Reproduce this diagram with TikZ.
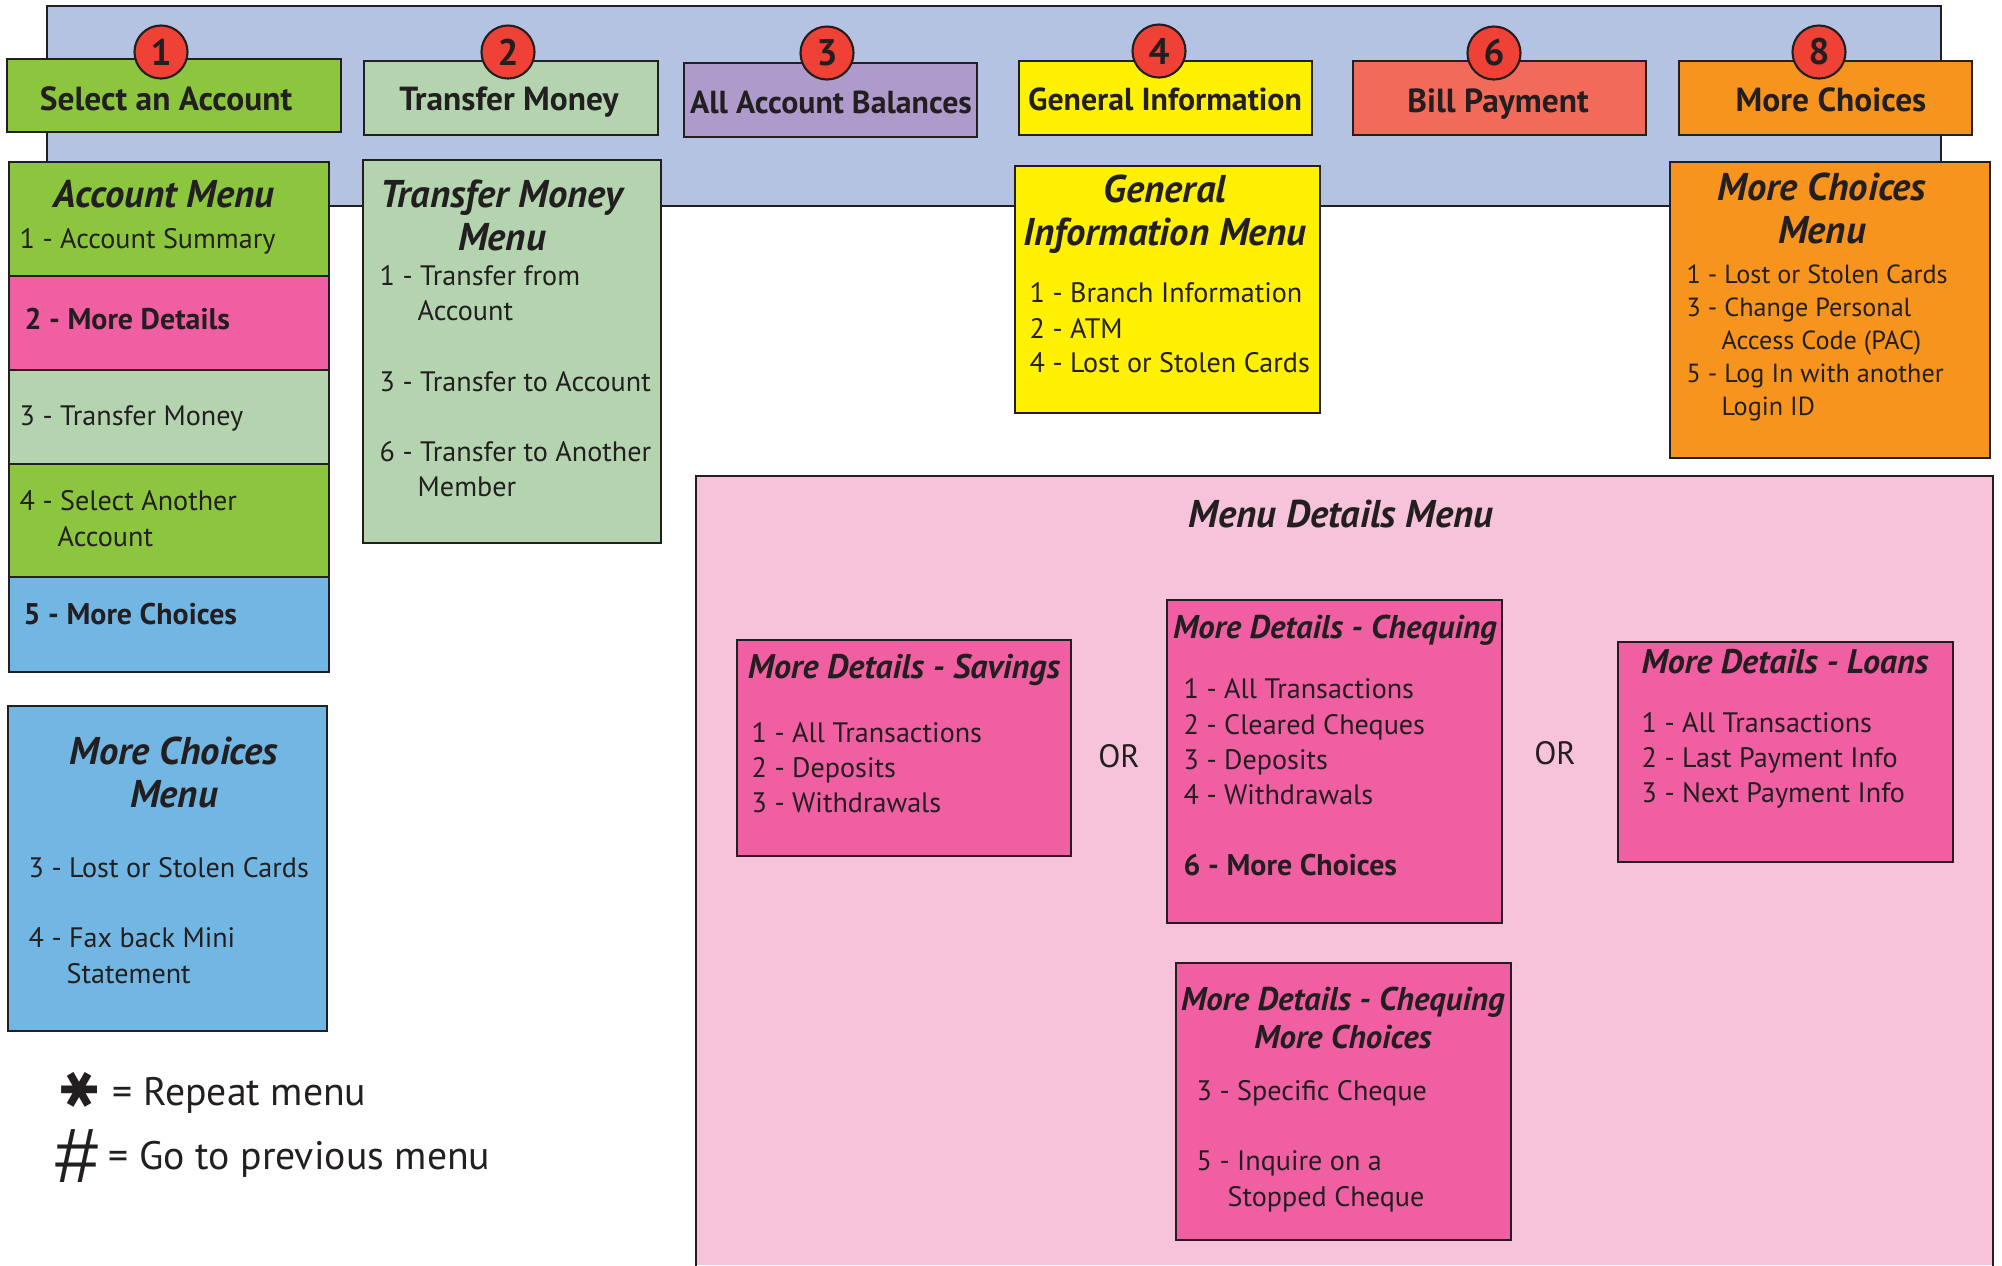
\documentclass[tikz,border=0pt]{standalone}
\usepackage{fontspec}
\setmainfont{PT Sans}
\newfontfamily\symfont{DejaVu Sans}
\newfontfamily\hashfont{Liberation Sans}
\definecolor{ink}{HTML}{231F20}
\definecolor{hdr}{HTML}{B5C3E3}
\definecolor{cgreen}{HTML}{8CC63F}
\definecolor{clgreen}{HTML}{B3D4AF}
\definecolor{cpurple}{HTML}{AE9BCB}
\definecolor{cyellow}{HTML}{FFF100}
\definecolor{csalmon}{HTML}{F26B5A}
\definecolor{corange}{HTML}{F7941D}
\definecolor{cpink}{HTML}{F05FA1}
\definecolor{lpink}{HTML}{F6C3DA}
\definecolor{csky}{HTML}{72B7E4}
\definecolor{cred}{HTML}{EF4136}
\tikzset{
  box/.style={draw=ink, line width=0.7pt},
  circ/.style={circle, draw=ink, fill=cred, line width=0.6pt, minimum size=0.53cm, inner sep=0pt,
    font=\fontsize{10.5}{12}\selectfont\bfseries, text=ink},
  btn/.style={anchor=base, inner sep=0pt, text=ink, font=\fontsize{9.5}{12}\selectfont\bfseries},
  sbtn/.style={anchor=base, inner sep=0pt, text=ink, font=\fontsize{9.05}{12}\selectfont\bfseries},
  ttl/.style={anchor=base, inner sep=0pt, text=ink, font=\fontsize{11}{13}\selectfont\bfseries\itshape},
  pttl/.style={anchor=base, inner sep=0pt, text=ink, font=\fontsize{9.7}{12}\selectfont\bfseries\itshape},
  cttl/.style={anchor=base, inner sep=0pt, text=ink, font=\fontsize{9.35}{12}\selectfont\bfseries\itshape},
  body/.style={anchor=base west, inner sep=0pt, text=ink, font=\fontsize{8}{10}\selectfont},
  sbody/.style={anchor=base west, inner sep=0pt, text=ink, font=\fontsize{7.45}{9}\selectfont},
  bodyb/.style={anchor=base west, inner sep=0pt, text=ink, font=\fontsize{8.5}{10}\selectfont\bfseries},
  ortext/.style={anchor=base, inner sep=0pt, text=ink, font=\fontsize{9.2}{11}\selectfont},
  legend/.style={anchor=base west, inner sep=0pt, text=ink, font=\fontsize{11.3}{14}\selectfont},
}
\begin{document}
\begin{tikzpicture}[x=0.01cm,y=-0.01cm]
\useasboundingbox (0,0) rectangle (2002,1265);
% header band
\path[box,fill=hdr] (47,6) rectangle (1941,206);
% top buttons
\path[box,fill=cgreen]  (7,59)    rectangle (341,132);
\path[box,fill=clgreen] (364,61)  rectangle (658,135);
\path[box,fill=cpurple] (684,63)  rectangle (977,137);
\path[box,fill=cyellow] (1019,61) rectangle (1312,135);
\path[box,fill=csalmon] (1353,61) rectangle (1646,135);
\path[box,fill=corange] (1679,61) rectangle (1972,135);
\node[btn]  (tSel)  at (166,110)  {Select an Account};
\node[btn]  (tTr)   at (509,110)  {Transfer Money};
\node[sbtn] (tAll)  at (831,113)  {All Account Balances};
\node[sbtn] (tGen)  at (1165,110) {General Information};
\node[btn]  (tBill) at (1498,112) {Bill Payment};
\node[btn]  (tMore) at (1831,111) {More Choices};
\node[circ] (c1) at (161,52)  {1};
\node[circ] (c2) at (508,52)  {2};
\node[circ] (c3) at (827,53)  {3};
\node[circ] (c4) at (1159,51) {4};
\node[circ] (c6) at (1494,53) {6};
\node[circ] (c8) at (1819,52) {8};
% Account menu stack
\path[box,fill=cgreen]  (9,162) rectangle (329,276);
\path[box,fill=cpink]   (9,276) rectangle (329,370);
\path[box,fill=clgreen] (9,370) rectangle (329,464);
\path[box,fill=cgreen]  (9,464) rectangle (329,577);
\path[box,fill=csky]    (9,577) rectangle (329,672);
\node[ttl]   (amT)  at (164,207) {Account Menu};
\node[body]  (am1)  at (19,248)  {1 - Account Summary};
\node[bodyb] (am2)  at (24,329)  {2 - More Details};
\node[body]  (am3)  at (19,425)  {3 - Transfer Money};
\node[body]  (am4)  at (19,510)  {4 - Select Another};
\node[body]  (am4b) at (57,546)  {Account};
\node[bodyb] (am5)  at (23,624)  {5 - More Choices};
% Transfer money menu
\path[box,fill=clgreen] (363,160) rectangle (661,543);
\node[ttl]  (tmT1) at (502,207) {Transfer Money};
\node[ttl]  (tmT2) at (502,250) {Menu};
\node[body] (tm1)  at (379,285) {1 - Transfer from};
\node[body] (tm1b) at (417,320) {Account};
\node[body] (tm3)  at (379,391) {3 - Transfer to Account};
\node[body] (tm6)  at (379,461) {6 - Transfer to Another};
\node[body] (tm6b) at (417,496) {Member};
% General information menu
\path[box,fill=cyellow] (1015,166) rectangle (1320,413);
\node[ttl]  (giT1) at (1165,202) {General};
\node[ttl]  (giT2) at (1165,245) {Information Menu};
\node[body] (gi1)  at (1029,302) {1 - Branch Information};
\node[body] (gi2)  at (1029,338) {2 - ATM};
\node[body] (gi4)  at (1029,372) {4 - Lost or Stolen Cards};
% More choices menu (orange)
\path[box,fill=corange] (1670,162) rectangle (1990,458);
\node[ttl]   (mcT1) at (1822,200) {More Choices};
\node[ttl]   (mcT2) at (1822,243) {Menu};
\node[sbody] (mc1)  at (1686,283) {1 - Lost or Stolen Cards};
\node[sbody] (mc3)  at (1686,316) {3 - Change Personal};
\node[sbody] (mc3b) at (1721,349) {Access Code (PAC)};
\node[sbody] (mc5)  at (1686,382) {5 - Log In with another};
\node[sbody] (mc5b) at (1721,415) {Login ID};
% More choices menu (blue)
\path[box,fill=csky] (8,706) rectangle (327,1031);
\node[ttl]  (bcT1) at (174,764) {More Choices};
\node[ttl]  (bcT2) at (174,807) {Menu};
\node[body] (bc3)  at (28,877) {3 - Lost or Stolen Cards};
\node[body] (bc4)  at (28,947) {4 - Fax back Mini};
\node[body] (bc4b) at (66,983) {Statement};
% legend
\node[inner sep=0pt, text=ink, rotate=90, font=\fontsize{14}{15}\selectfont\symfont] (star) at (80,1090) {✱};
\node[legend] (lg1) at (112,1105) {= Repeat menu};
\node[anchor=base, inner sep=0pt, text=ink, font=\fontsize{22}{24}\selectfont\hashfont] (hash) at (77,1182) {\#};
\node[legend] (lg2) at (108,1169) {= Go to previous menu};
% Menu details area
\fill[lpink] (696,476) rectangle (1993,1265);
\draw[ink, line width=0.7pt] (696,1270) -- (696,476) -- (1993,476) -- (1993,1270);
\node[ttl] (mdT) at (1341,527) {Menu Details Menu};
% savings
\path[box,fill=cpink] (737,640) rectangle (1071,856);
\node[pttl] (svT) at (904,678) {More Details - Savings};
\node[body] (sv1) at (751,742) {1 - All Transactions};
\node[body] (sv2) at (751,777) {2 - Deposits};
\node[body] (sv3) at (751,812) {3 - Withdrawals};
\node[ortext] (or1) at (1119,767) {OR};
% chequing
\path[box,fill=cpink] (1167,600) rectangle (1502,923);
\node[cttl]  (cqT) at (1335,638) {More Details - Chequing};
\node[body]  (cq1) at (1183,698) {1 - All Transactions};
\node[body]  (cq2) at (1183,734) {2 - Cleared Cheques};
\node[body]  (cq3) at (1183,769) {3 - Deposits};
\node[body]  (cq4) at (1183,804) {4 - Withdrawals};
\node[bodyb] (cq6) at (1183,875) {6 - More Choices};
\node[ortext] (or2) at (1555,764) {OR};
% loans
\path[box,fill=cpink] (1618,642) rectangle (1953,862);
\node[pttl] (lnT) at (1785,673) {More Details - Loans};
\node[body] (ln1) at (1641,732) {1 - All Transactions};
\node[body] (ln2) at (1641,767) {2 - Last Payment Info};
\node[body] (ln3) at (1641,802) {3 - Next Payment Info};
% chequing more choices
\path[box,fill=cpink] (1176,963) rectangle (1511,1240);
\node[cttl] (cmT1) at (1343,1010) {More Details - Chequing};
\node[cttl] (cmT2) at (1343,1048) {More Choices};
\node[body] (cm3)  at (1196,1100) {3 - Specific Cheque};
\node[body] (cm5)  at (1196,1170) {5 - Inquire on a};
\node[body] (cm5b) at (1227,1206) {Stopped Cheque};
\end{tikzpicture}
\end{document}
